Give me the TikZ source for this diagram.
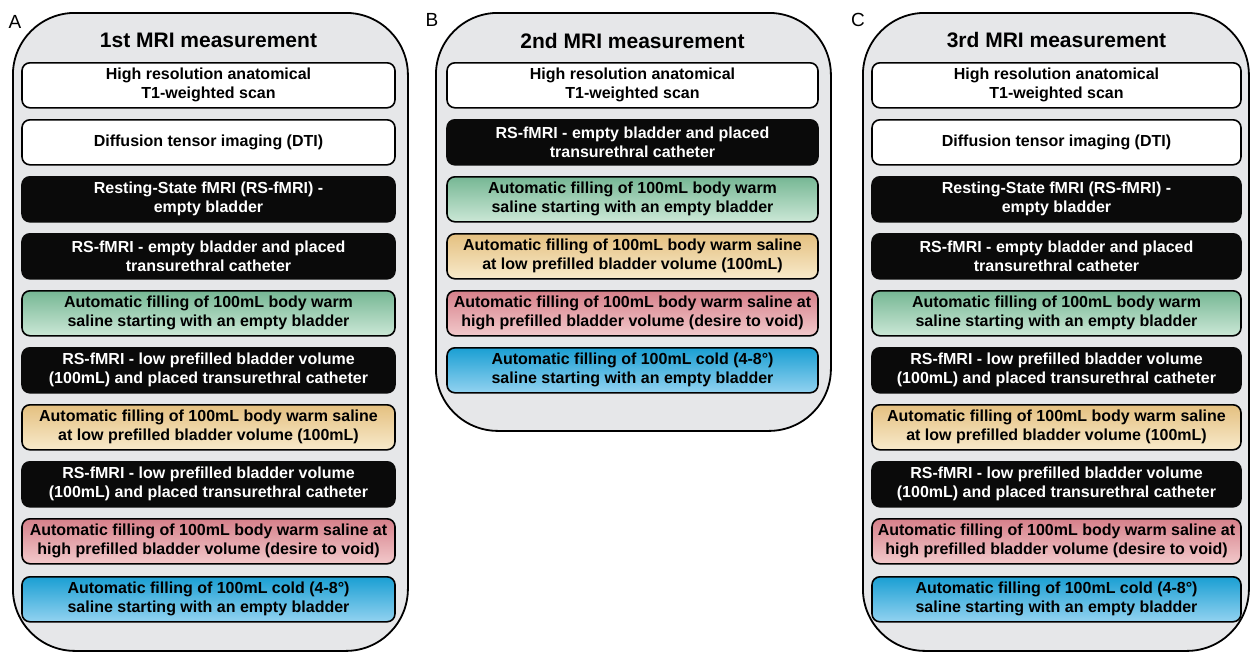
\documentclass[tikz,border=0pt]{standalone}
\usepackage{fontspec}
\setmainfont{Liberation Sans}
\definecolor{panelgray}{HTML}{E6E7E9}
\definecolor{gtop}{HTML}{76B794}
\definecolor{gbot}{HTML}{CBE7D6}
\definecolor{ytop}{HTML}{E4C080}
\definecolor{ybot}{HTML}{F8EACB}
\definecolor{rtop}{HTML}{D6808A}
\definecolor{rbot}{HTML}{F2C9CB}
\definecolor{btop}{HTML}{1A9FD3}
\definecolor{bbot}{HTML}{92D2F0}
\tikzset{
  panel/.style={draw=black, line width=1.8pt, fill=panelgray, rounded corners=62pt, inner sep=0pt},
  stepbox/.style={rounded corners=8pt, minimum height=45pt, line width=1.6pt, align=center,
    font=\fontsize{16}{19}\selectfont\bfseries, inner sep=0pt, anchor=north},
  whitebox/.style={stepbox, fill=white, draw=black},
  blackbox/.style={stepbox, fill=black!96, draw=black!96, text=white},
  greenbox/.style={stepbox, draw=black, top color=gtop, bottom color=gbot},
  yellowbox/.style={stepbox, draw=black, top color=ytop, bottom color=ybot},
  redbox/.style={stepbox, draw=black, top color=rtop, bottom color=rbot},
  bluebox/.style={stepbox, draw=black, top color=btop, bottom color=bbot},
  title/.style={font=\fontsize{21}{24}\selectfont\bfseries, inner sep=0pt},
  letter/.style={font=\fontsize{19}{22}\selectfont, inner sep=0pt},
}
\newcommand{\tA}{High resolution anatomical\\T1-weighted scan}
\newcommand{\tB}{Diffusion tensor imaging (DTI)}
\newcommand{\tC}{Resting-State fMRI (RS-fMRI) -\\empty bladder}
\newcommand{\tD}{RS-fMRI - empty bladder and placed\\transurethral catheter}
\newcommand{\tE}{Automatic filling of 100mL body warm\\saline starting with an empty bladder}
\newcommand{\tF}{RS-fMRI - low prefilled bladder volume\\(100mL) and placed transurethral catheter}
\newcommand{\tG}{Automatic filling of 100mL body warm saline\\at low prefilled bladder volume (100mL)}
\newcommand{\tH}{Automatic filling of 100mL body warm saline at\\high prefilled bladder volume (desire to void)}
\newcommand{\tI}{Automatic filling of 100mL cold (4-8°)\\saline starting with an empty bladder}
\begin{document}
\begin{tikzpicture}[x=1pt,y=-1pt]
\useasboundingbox (0,0) rectangle (1250,653);
% panels
\node[panel, minimum width=395pt, minimum height=638pt, anchor=north west] (panelA) at (12,12) {};
\node[panel, minimum width=395pt, minimum height=418pt, anchor=north west] (panelB) at (435,12) {};
\node[panel, minimum width=386pt, minimum height=638pt, anchor=north west] (panelC) at (862,12) {};
\node[letter] (labA) at (15,22) {A};
\node[letter] (labB) at (432,20) {B};
\node[letter] (labC) at (858,20) {C};
\node[title] (titA) at (208.5,40.5) {1st MRI measurement};
\node[title] (titB) at (632.5,40.5) {2nd MRI measurement};
\node[title] (titC) at (1056.5,40.5) {3rd MRI measurement};
% column A
\begin{scope}[every node/.append style={minimum width=373pt}]
\node[whitebox]  (a1)  at (208.5,62)  {\tA};
\node[whitebox]  (a2)  at (208.5,119) {\tB};
\node[blackbox]  (a3)  at (208.5,176) {\tC};
\node[blackbox]  (a4)  at (208.5,233) {\tD};
\node[greenbox]  (a5)  at (208.5,290) {\tE};
\node[blackbox]  (a6)  at (208.5,347) {\tF};
\node[yellowbox] (a7)  at (208.5,404) {\tG};
\node[blackbox]  (a8)  at (208.5,461) {\tF};
\node[redbox]    (a9)  at (208.5,518) {\tH};
\node[bluebox]   (a10) at (208.5,576) {\tI};
\end{scope}
% column B
\begin{scope}[every node/.append style={minimum width=371pt}]
\node[whitebox]  (b1) at (632.5,62)  {\tA};
\node[blackbox]  (b2) at (632.5,119) {\tD};
\node[greenbox]  (b3) at (632.5,176) {\tE};
\node[yellowbox] (b4) at (632.5,233) {\tG};
\node[redbox]    (b5) at (632.5,290) {\tH};
\node[bluebox]   (b6) at (632.5,347) {\tI};
\end{scope}
% column C
\begin{scope}[every node/.append style={minimum width=369pt}]
\node[whitebox]  (c1)  at (1056.5,62)  {\tA};
\node[whitebox]  (c2)  at (1056.5,119) {\tB};
\node[blackbox]  (c3)  at (1056.5,176) {\tC};
\node[blackbox]  (c4)  at (1056.5,233) {\tD};
\node[greenbox]  (c5)  at (1056.5,290) {\tE};
\node[blackbox]  (c6)  at (1056.5,347) {\tF};
\node[yellowbox] (c7)  at (1056.5,404) {\tG};
\node[blackbox]  (c8)  at (1056.5,461) {\tF};
\node[redbox]    (c9)  at (1056.5,518) {\tH};
\node[bluebox]   (c10) at (1056.5,576) {\tI};
\end{scope}
\end{tikzpicture}
\end{document}
